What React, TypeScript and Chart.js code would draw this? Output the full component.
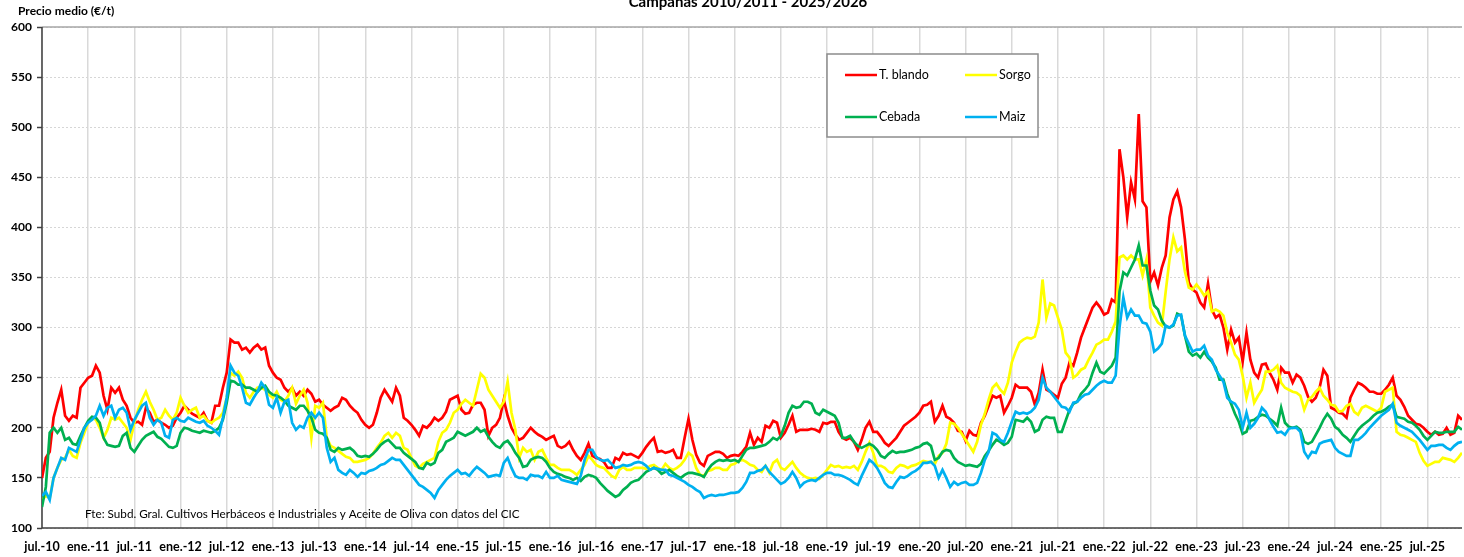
import React, { useEffect, useRef } from "react";
import { Chart, registerables } from "chart.js";

Chart.register(...registerables);

const FONT = "Lato, 'Liberation Sans', Arial, sans-serif";

const titleText = "Campañas 2010/2011 - 2025/2026";
const yTitle = "Precio medio (€/t)";
const sourceText = "Fte: Subd. Gral. Cultivos Herbáceos e Industriales y Aceite de Oliva con datos del CIC";

const xLabels = [
  "jul.-10", "ene.-11", "jul.-11", "ene.-12", "jul.-12", "ene.-13", "jul.-13", "ene.-14",
  "jul.-14", "ene.-15", "jul.-15", "ene.-16", "jul.-16", "ene.-17", "jul.-17", "ene.-18",
  "jul.-18", "ene.-19", "jul.-19", "ene.-20", "jul.-20", "ene.-21", "jul.-21", "ene.-22",
  "jul.-22", "ene.-23", "jul.-23", "ene.-24", "jul.-24", "ene.-25", "jul.-25",
];
const monthsPerLabel = 6;
const monthsPerPoint = 0.5;

const seriesNames = ["T. blando", "Sorgo", "Cebada", "Maiz"];
const seriesColors = ["#ff0000", "#ffff00", "#00b050", "#00b0f0"];

// half-monthly values from jul.-10
const tBlando = [
  150,170,176,210,225,238,212,207,212,210,240,245,250,252,262,255,232,218,240,235,240,228,222,210,
  205,206,203,220,215,206,208,205,203,200,202,210,215,222,218,214,212,210,215,207,205,222,222,240,
  255,288,285,285,278,280,275,280,283,278,280,262,255,250,248,240,236,240,232,236,232,238,234,226,
  228,223,220,217,220,222,230,228,222,218,215,208,203,200,203,215,230,238,232,226,240,
  232,210,207,203,198,192,202,200,204,210,207,210,216,228,230,232,218,214,215,223,225,225,218,192,
  200,203,210,228,212,200,193,188,190,195,200,196,193,191,188,190,192,182,180,182,186,178,172,
  168,175,184,172,170,169,166,160,160,170,168,175,173,174,172,170,175,181,186,190,176,177,175,176,
  178,170,170,190,209,188,173,165,162,172,174,176,176,174,170,172,173,172,176,181,195,
  183,190,186,202,200,207,205,190,195,203,212,196,198,198,198,199,198,196,205,204,206,206,196,190,
  188,190,186,178,188,200,206,196,196,191,185,182,186,190,196,202,205,208,211,215,222,223,226,
  206,212,222,211,209,205,197,196,187,197,193,192,205,212,222,232,230,232,215,222,230,243,240,240,
  240,236,223,235,258,238,236,233,230,244,250,265,262,275,290,300,310,320,325,320,313,
  315,328,325,478,450,410,445,428,513,426,420,346,355,342,360,372,410,428,436,420,388,345,338,335,
  325,320,344,318,310,313,300,278,298,285,290,266,295,268,255,250,263,264,255,248,238,260,255,
  255,245,253,250,242,231,226,230,240,258,252,220,218,215,214,210,230,238,245,243,240,236,236,234,
  234,238,243,250,232,228,221,212,208,204,203,200,196,193,196,193,194,200,193,195,212,208,
];

const sorgo = [
  128,132,130,150,160,168,170,178,172,170,185,195,205,210,208,200,190,198,210,208,210,205,200,188,
  205,218,228,236,226,218,208,210,218,212,208,215,230,222,215,218,220,210,212,207,205,208,210,215,
  230,255,252,256,250,235,230,236,240,240,238,233,230,236,228,226,232,240,224,232,238,225,190,222,
  220,225,190,182,180,177,174,171,170,166,166,167,168,170,174,180,185,192,195,190,195,
  192,180,178,170,162,160,164,166,168,170,186,195,198,205,215,218,224,228,225,222,238,254,250,238,
  232,226,220,226,246,215,198,170,180,176,178,168,176,178,170,163,163,160,158,158,158,156,153,
  158,163,172,168,163,161,160,156,152,150,158,161,158,158,160,160,160,159,162,163,160,158,164,160,
  158,160,163,168,175,172,160,153,152,157,158,160,160,158,158,163,164,167,168,166,163,
  162,158,156,162,155,165,168,160,158,162,166,160,155,152,150,149,150,149,153,158,163,161,162,160,
  161,160,162,158,166,176,185,175,162,162,160,156,155,160,163,162,160,162,163,165,167,166,166,
  164,172,175,184,205,204,200,194,188,182,176,186,203,214,228,240,244,238,234,245,265,276,285,288,
  290,289,291,305,348,310,324,322,310,298,275,270,250,253,258,260,268,275,283,285,288,
  288,296,306,370,372,368,372,368,368,352,368,320,312,305,302,336,368,390,376,380,356,340,338,343,
  338,332,336,316,318,316,312,295,285,273,268,252,230,245,225,232,238,256,256,258,262,245,240,
  238,236,235,232,218,228,231,236,240,232,228,223,222,216,217,222,224,216,213,220,222,220,218,216,
  220,236,238,240,196,193,192,190,188,186,175,167,162,164,166,166,170,169,168,166,170,175,
];

const cebada = [
  121,141,195,200,195,200,188,190,184,183,192,200,207,211,210,205,190,183,182,181,182,192,195,180,
  176,182,188,192,194,196,191,189,185,181,180,182,195,200,199,197,196,195,197,196,195,197,200,208,
  225,247,246,243,243,240,240,238,236,240,242,236,233,232,230,227,222,220,218,222,222,217,210,198,
  195,194,190,178,176,180,178,179,180,177,172,171,172,171,174,178,183,186,188,184,180,
  180,175,172,169,166,160,159,165,163,165,175,178,186,188,190,196,194,192,194,196,200,196,198,191,
  186,182,180,185,187,182,175,170,161,162,168,170,171,170,166,160,156,154,153,151,150,148,150,
  147,151,153,152,150,145,141,137,134,131,133,138,141,145,147,148,152,156,158,160,158,154,156,158,
  155,152,150,153,155,155,154,153,151,158,163,166,168,167,168,167,168,166,172,178,180,
  180,181,182,183,186,190,188,192,202,215,222,220,221,226,226,224,215,213,218,216,214,212,205,190,
  190,192,186,182,180,182,184,182,178,172,170,174,177,175,176,176,177,178,180,181,184,185,182,
  168,170,176,178,177,170,166,164,162,163,162,161,164,172,177,183,188,186,183,185,191,208,207,206,
  210,206,196,198,208,211,210,210,196,196,207,218,224,226,234,238,243,255,265,256,254,
  258,262,270,336,355,352,360,368,382,362,362,337,322,318,307,301,300,302,314,312,292,276,272,274,
  270,276,270,266,260,248,248,234,224,214,206,194,196,207,208,211,213,212,209,206,202,220,205,
  201,200,201,198,186,184,186,193,200,208,214,209,201,198,193,190,186,192,198,202,205,208,212,215,
  216,218,221,223,211,210,209,206,205,202,198,192,188,192,196,195,195,196,196,196,201,198,
];

const maiz = [
  132,136,128,150,160,170,168,180,178,176,188,200,205,208,212,222,212,220,222,210,218,220,215,198,
  208,215,222,225,210,203,208,205,192,190,208,210,207,206,210,208,206,205,207,202,200,197,193,210,
  230,262,255,252,240,225,223,230,236,245,240,223,220,230,215,226,228,205,198,202,200,210,215,210,
  215,210,180,166,170,158,155,153,158,155,151,155,154,157,158,160,163,164,167,170,168,
  168,163,158,153,148,143,141,138,135,130,138,143,148,152,155,158,154,155,152,157,161,158,155,151,
  152,153,152,165,170,160,152,150,150,148,153,152,152,150,156,150,150,152,148,147,146,145,144,
  152,168,178,178,171,168,167,168,164,160,161,163,162,163,165,166,165,162,158,160,159,158,158,153,
  152,150,148,146,143,141,138,136,130,132,133,132,133,133,134,135,135,136,140,146,155,
  155,157,158,162,156,152,148,144,146,150,156,150,141,145,147,148,147,150,153,155,155,153,153,152,
  150,148,145,143,152,160,168,165,160,153,145,141,140,146,151,150,152,155,157,160,165,165,166,
  162,150,158,150,141,146,143,145,146,143,143,145,155,168,176,195,193,188,186,195,206,216,214,215,
  214,216,220,228,250,240,236,231,226,221,220,216,225,226,230,233,234,238,242,245,247,
  245,245,252,300,330,310,318,312,312,305,304,296,276,279,284,302,300,303,312,313,292,284,276,278,
  278,282,272,268,258,252,246,230,226,224,218,200,215,200,204,210,220,216,208,201,195,196,193,
  199,200,200,196,176,170,176,175,184,186,187,188,180,176,174,172,172,188,188,191,195,200,204,208,
  212,215,218,224,205,202,200,198,196,192,188,183,178,182,182,183,183,180,178,182,185,186,
];

const seriesData = [tBlando, sorgo, cebada, maiz];
const drawOrder = [3, 2, 1, 0]; // Maiz drawn on top

const decorPlugin = {
  id: "decor",
  beforeDatasetsDraw(chart: any) {
    const { ctx, chartArea: a } = chart;
    ctx.save();
    ctx.lineCap = "butt";
    ctx.strokeStyle = "#a6a6a6";
    ctx.lineWidth = 1.5;
    ctx.beginPath();
    ctx.moveTo(a.left, a.top);
    ctx.lineTo(a.right, a.top);
    ctx.stroke();
    ctx.strokeStyle = "#404040";
    ctx.lineWidth = 1.5;
    ctx.beginPath();
    ctx.moveTo(a.left, a.top);
    ctx.lineTo(a.left, a.bottom);
    ctx.lineTo(a.right, a.bottom);
    ctx.stroke();
    ctx.restore();
  },
  afterDraw(chart: any) {
    const { ctx } = chart;
    ctx.save();
    ctx.fillStyle = "#000";
    ctx.textBaseline = "alphabetic";
    ctx.textAlign = "center";
    ctx.font = `bold 15px ${FONT}`;
    ctx.fillText(titleText, 748, 7);

    ctx.textAlign = "left";
    ctx.textBaseline = "middle";
    ctx.font = `bold 12px ${FONT}`;
    ctx.fillText(yTitle, 18, 11);

    ctx.font = `11.7px ${FONT}`;
    ctx.fillText(sourceText, 85, 514);

    // legend
    const lx = 827, ly = 54, lw = 211, lh = 83;
    ctx.fillStyle = "#ffffff";
    ctx.fillRect(lx, ly, lw, lh);
    ctx.strokeStyle = "#8c8c8c";
    ctx.lineWidth = 1.5;
    ctx.strokeRect(lx, ly, lw, lh);
    const cols = [845, 965];
    const rows = [75, 117];
    seriesNames.forEach((name, i) => {
      const cx = cols[i % 2];
      const cy = rows[Math.floor(i / 2)];
      ctx.strokeStyle = seriesColors[i];
      ctx.lineWidth = 2.5;
      ctx.beginPath();
      ctx.moveTo(cx, cy);
      ctx.lineTo(cx + 32, cy);
      ctx.stroke();
      ctx.fillStyle = "#000";
      ctx.font = `12.5px ${FONT}`;
      ctx.textAlign = "left";
      ctx.textBaseline = "middle";
      ctx.fillText(name, cx + 34, cy);
    });
    ctx.restore();
  },
};

function ChartView() {
  const ref = useRef<HTMLCanvasElement | null>(null);
  useEffect(() => {
    if (!ref.current) return;
    const datasets = seriesData.map((arr, s) => ({
      label: seriesNames[s],
      data: arr.map((v, i) => ({ x: i * monthsPerPoint, y: v })),
      borderColor: seriesColors[s],
      backgroundColor: seriesColors[s],
      borderWidth: 2.7,
      pointRadius: 0,
      tension: 0,
      order: drawOrder[s],
    }));
    const lastX = (tBlando.length - 1) * monthsPerPoint;
    const chart = new Chart(ref.current, {
      type: "line",
      data: { datasets },
      options: {
        animation: false,
        responsive: false,
        devicePixelRatio: 1,
        parsing: false,
        layout: { padding: { top: 27, right: 2, left: 0, bottom: 0 } },
        plugins: { legend: { display: false }, tooltip: { enabled: false }, title: { display: false } },
        scales: {
          x: {
            type: "linear",
            min: 0,
            max: lastX,
            afterFit: (s: any) => { s.height = 29; },
            afterBuildTicks: (s: any) => {
              s.ticks = xLabels.map((_, i) => ({ value: i * monthsPerLabel }));
            },
            grid: { color: "#d9d9d9", lineWidth: 1.5, drawTicks: false },
            border: { display: false },
            ticks: {
              autoSkip: false,
              maxRotation: 0,
              padding: 11,
              color: "#000",
              font: { family: FONT, size: 12.5, weight: "bold" },
              callback: (_v: any, i: number) => xLabels[i],
            },
          },
          y: {
            type: "linear",
            min: 100,
            max: 600,
            afterFit: (s: any) => { s.width = 42; },
            grid: {
              color: "#d6d6d6",
              lineWidth: 1,
              tickLength: 5,
              tickColor: "#404040",
              tickWidth: 1.5,
              tickBorderDash: [],
            },
            border: { display: false, dash: [2, 2] },
            ticks: {
              stepSize: 50,
              padding: 5,
              color: "#000",
              font: { family: FONT, size: 12, weight: "bold" },
            },
          },
        },
      },
      plugins: [decorPlugin],
    } as any);
    return () => chart.destroy();
  }, []);
  return <canvas ref={ref} width={1464} height={557} style={{ display: "block" }} />;
}

export default function App() {
  return (
    <div style={{ position: "absolute", left: 0, top: 0, width: 1464, height: 557, background: "#fff" }}>
      <ChartView />
    </div>
  );
}
